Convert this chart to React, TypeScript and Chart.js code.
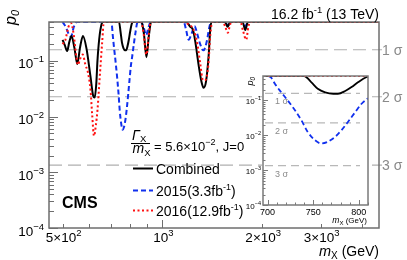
import React, { useEffect, useRef } from "react";
import { Chart, registerables } from "chart.js";
Chart.register(...registerables);

const FONT = '"Liberation Sans", Arial, Helvetica, sans-serif';

// ---- data ----
const combinedMass = [500, 508, 516, 524, 532, 543, 554, 564, 576, 590, 607, 618, 625, 632, 637, 645, 655, 662, 740, 748, 755, 763, 772, 777, 785, 792, 799, 808, 815, 865, 880, 895, 910, 925, 1180, 1214, 1237, 1257, 1286, 1311, 1331, 1354, 1379, 1395, 1408, 1545, 1573, 1600, 1745, 1778, 1810, 4500];
const combinedP0 = [0.24, 0.19, 0.15, 0.22, 0.28, 0.17, 0.088, 0.17, 0.28, 0.17, 0.052, 0.024, 0.022, 0.04, 0.1, 0.25, 0.45, 0.5, 0.5, 0.33, 0.215, 0.17, 0.155, 0.155, 0.185, 0.24, 0.33, 0.46, 0.5, 0.5, 0.3, 0.117, 0.28, 0.5, 0.5, 0.41, 0.36, 0.22, 0.084, 0.043, 0.033, 0.043, 0.128, 0.39, 0.5, 0.5, 0.41, 0.5, 0.5, 0.36, 0.5, 0.5];

const mass2015 = [500, 512, 522, 530, 540, 552, 700, 704, 708, 715, 722, 730, 737, 744, 752, 759, 766, 774, 781, 788, 796, 803, 810, 820, 830, 842, 862, 880, 893, 908, 922, 1160, 1180, 1200, 1225, 1250, 1275, 1300, 1330, 1360, 1385, 1402, 1550, 1575, 1600, 1750, 1780, 1810, 4500];
const p0_2015 = [0.5, 0.4, 0.3, 0.27, 0.4, 0.5, 0.5, 0.45, 0.3, 0.17, 0.1, 0.052, 0.027, 0.0124, 0.0072, 0.0058, 0.0065, 0.009, 0.014, 0.024, 0.046, 0.08, 0.115, 0.2, 0.33, 0.5, 0.5, 0.38, 0.29, 0.4, 0.5, 0.5, 0.35, 0.24, 0.31, 0.42, 0.3, 0.2, 0.155, 0.22, 0.4, 0.5, 0.5, 0.42, 0.5, 0.5, 0.42, 0.5, 0.5];

const mass2016 = [500, 510, 520, 530, 540, 550, 556, 565, 575, 586, 597, 607, 614, 622, 630, 637, 647, 658, 666, 860, 875, 895, 910, 922, 1160, 1200, 1240, 1275, 1302, 1325, 1345, 1376, 1395, 1415, 1520, 1550, 1575, 1600, 1620, 1720, 1750, 1790, 1815, 1840, 4500];
const p0_2016 = [0.2, 0.24, 0.4, 0.48, 0.3, 0.12, 0.085, 0.11, 0.13, 0.085, 0.06, 0.03, 0.011, 0.0045, 0.007, 0.013, 0.05, 0.21, 0.5, 0.5, 0.35, 0.13, 0.3, 0.5, 0.5, 0.45, 0.37, 0.2, 0.085, 0.045, 0.045, 0.085, 0.3, 0.5, 0.5, 0.4, 0.32, 0.45, 0.5, 0.5, 0.35, 0.24, 0.4, 0.5, 0.5];

const xMinorTicks = [500, 600, 700, 800, 900, 1000, 2000, 3000, 4000];
const xLabelValues = [500, 1000, 2000, 3000];
const xLabelBases = ["5×10", "10", "2×10", "3×10"];
const xLabelExps = ["2", "3", "3", "3"];
const yDecades = [1e-4, 1e-3, 1e-2, 1e-1];
const yDecadeExps = ["−4", "−3", "−2", "−1"];
const sigmaP = [0.1587, 0.02275, 0.00135];
const sigmaNames = ["1", "2", "3"];
const insetXLabels = [700, 750, 800];
const legendNames = ["Combined", "2015(3.3fb", "2016(12.9fb"];

type Part = { t: string; size: number; dy?: number; style?: string };

function drawParts(ctx: CanvasRenderingContext2D, parts: Part[], x: number, y: number, align: string, color: string) {
  ctx.save();
  ctx.fillStyle = color;
  ctx.textBaseline = "alphabetic";
  ctx.textAlign = "left";
  const f = (p: Part) => `${p.style ?? ""} ${p.size}px ${FONT}`;
  let total = 0;
  const widths: number[] = [];
  for (const p of parts) {
    ctx.font = f(p);
    const w = ctx.measureText(p.t).width;
    widths.push(w);
    total += w;
  }
  let cx = align === "right" ? x - total : align === "center" ? x - total / 2 : x;
  parts.forEach((p, i) => {
    ctx.font = f(p);
    ctx.fillText(p.t, cx, y - (p.dy ?? 0));
    cx += widths[i];
  });
  ctx.restore();
}

function line(ctx: CanvasRenderingContext2D, x1: number, y1: number, x2: number, y2: number) {
  ctx.beginPath();
  ctx.moveTo(x1, y1);
  ctx.lineTo(x2, y2);
  ctx.stroke();
}

const BLUE = "#1030ee";
const RED = "#ff1010";

function makeDatasets(width: number) {
  return [
    {
      label: "Combined",
      data: combinedMass.map((m, i) => ({ x: m, y: combinedP0[i] })),
      borderColor: "#000",
      borderWidth: width,
      borderDash: [],
      pointRadius: 0,
      fill: false,
      cubicInterpolationMode: "monotone",
      order: 2,
    },
    {
      label: "2015",
      data: mass2015.map((m, i) => ({ x: m, y: p0_2015[i] })),
      borderColor: BLUE,
      borderWidth: width,
      borderDash: [5, 3],
      pointRadius: 0,
      fill: false,
      cubicInterpolationMode: "monotone",
      order: 3,
    },
    {
      label: "2016",
      data: mass2016.map((m, i) => ({ x: m, y: p0_2016[i] })),
      borderColor: RED,
      borderWidth: width,
      borderDash: [2, 2.5],
      pointRadius: 0,
      fill: false,
      cubicInterpolationMode: "monotone",
      order: 1,
    },
  ];
}

const mainDecor = {
  id: "mainDecor",
  beforeDatasetsDraw(chart: any) {
    const ctx: CanvasRenderingContext2D = chart.ctx;
    const a = chart.chartArea;
    const ys = chart.scales.y;
    ctx.save();
    ctx.strokeStyle = "#b0b0b0";
    ctx.lineWidth = 1.2;
    ctx.setLineDash([13, 6]);
    sigmaP.forEach((p) => {
      const py = ys.getPixelForValue(p);
      line(ctx, a.left, py, a.right + 3, py);
    });
    ctx.restore();
  },
  afterDatasetsDraw(chart: any) {
    const ctx: CanvasRenderingContext2D = chart.ctx;
    const a = chart.chartArea;
    const xs = chart.scales.x;
    const ys = chart.scales.y;
    ctx.save();
    ctx.strokeStyle = "#6e6e6e";
    ctx.lineWidth = 1.5;
    ctx.strokeRect(a.left, a.top, a.right - a.left, a.bottom - a.top);
    ctx.lineWidth = 1;
    yDecades.forEach((d) => {
      for (let k = 1; k <= 9; k++) {
        const v = d * k;
        if (v > 0.5) break;
        const py = Math.round(ys.getPixelForValue(v)) + 0.5;
        line(ctx, a.left, py, a.left + (k === 1 ? 9 : 5), py);
      }
    });
    xMinorTicks.forEach((v) => {
      const px = Math.round(xs.getPixelForValue(v)) + 0.5;
      line(ctx, px, a.bottom, px, a.bottom - (v === 1000 ? 8 : 4));
    });
    ctx.restore();

    yDecades.forEach((d, i) => {
      const py = ys.getPixelForValue(d);
      drawParts(ctx, [{ t: "10", size: 13.5 }, { t: yDecadeExps[i], size: 9.5, dy: 6 }], a.left - 5, py + 7.5, "right", "#000");
    });
    xLabelValues.forEach((v, i) => {
      const px = xs.getPixelForValue(v);
      drawParts(ctx, [{ t: xLabelBases[i], size: 13.5 }, { t: xLabelExps[i], size: 9.5, dy: 6 }], px + 1, 242, "center", "#000");
    });
    drawParts(ctx, [{ t: "m", size: 14.5, style: "italic" }, { t: "X", size: 10, dy: -3 }, { t: " (GeV)", size: 14 }], a.right, 256, "right", "#000");
    ctx.save();
    ctx.translate(16, 10);
    ctx.rotate(-Math.PI / 2);
    drawParts(ctx, [{ t: "p", size: 16, style: "italic" }, { t: "0", size: 11, dy: -3, style: "italic" }], 0, 0, "right", "#000");
    ctx.restore();
    drawParts(ctx, [{ t: "16.2 fb", size: 14 }, { t: "-1", size: 9.5, dy: 6 }, { t: " (13 TeV)", size: 14 }], a.right, 19, "right", "#000");
    sigmaP.forEach((p, i) => {
      const py = ys.getPixelForValue(p);
      drawParts(ctx, [{ t: sigmaNames[i] + " σ", size: 14 }], a.right + 3, py + 5, "left", "#8a8a8a");
    });
    drawParts(ctx, [{ t: "CMS", size: 16, style: "bold" }], 62, 208, "left", "#000");
    // width/mass fraction
    drawParts(ctx, [{ t: "Γ", size: 14, style: "italic" }, { t: "X", size: 9.5, dy: -2.5 }], 132, 139.5, "left", "#000");
    ctx.save();
    ctx.strokeStyle = "#000";
    ctx.lineWidth = 1;
    line(ctx, 131, 143.5, 150, 143.5);
    ctx.restore();
    drawParts(ctx, [{ t: "m", size: 14, style: "italic" }, { t: "X", size: 9.5, dy: -2.5 }], 132.5, 153, "left", "#000");
    drawParts(ctx, [{ t: "= 5.6×10", size: 13 }, { t: "−2", size: 9, dy: 6 }, { t: ", J=0", size: 13 }], 154, 150.5, "left", "#000");
    const legY = [168.5, 190.5, 210.5];
    chart.data.datasets.forEach((ds: any, i: number) => {
      ctx.save();
      ctx.strokeStyle = ds.borderColor;
      ctx.lineWidth = 2;
      ctx.setLineDash(ds.borderDash);
      line(ctx, 133, legY[i], 153, legY[i]);
      ctx.restore();
      const parts: Part[] = [{ t: legendNames[i], size: 14 }];
      if (i > 0) {
        parts.push({ t: "-1", size: 9, dy: 6 });
        parts.push({ t: ")", size: 14 });
      }
      drawParts(ctx, parts, 156, legY[i] + 5, "left", "#000");
    });
  },
};

const insetDecor = {
  id: "insetDecor",
  beforeDraw(chart: any) {
    const ctx: CanvasRenderingContext2D = chart.ctx;
    const a = chart.chartArea;
    ctx.save();
    ctx.fillStyle = "#fff";
    ctx.fillRect(a.left - 1, a.top - 1, a.right - a.left + 2, a.bottom - a.top + 2);
    ctx.restore();
  },
  beforeDatasetsDraw(chart: any) {
    const ctx: CanvasRenderingContext2D = chart.ctx;
    const a = chart.chartArea;
    const ys = chart.scales.y;
    ctx.save();
    ctx.strokeStyle = "#b8b8b8";
    ctx.lineWidth = 1.2;
    ctx.setLineDash([8, 5]);
    sigmaP.forEach((p, i) => {
      const py = ys.getPixelForValue(p);
      line(ctx, a.left + 2, py, a.right - 8, py);
      drawParts(ctx, [{ t: sigmaNames[i] + " σ", size: 9 }], a.left + 12, py + 11, "left", "#8a8a8a");
    });
    ctx.restore();
  },
  afterDatasetsDraw(chart: any) {
    const ctx: CanvasRenderingContext2D = chart.ctx;
    const a = chart.chartArea;
    const xs = chart.scales.x;
    const ys = chart.scales.y;
    ctx.save();
    ctx.strokeStyle = "#7a7a7a";
    ctx.lineWidth = 1.5;
    ctx.strokeRect(a.left, a.top, a.right - a.left, a.bottom - a.top);
    ctx.lineWidth = 1;
    yDecades.forEach((d) => {
      for (let k = 1; k <= 9; k++) {
        const v = d * k;
        if (v > 0.5) break;
        const py = Math.round(ys.getPixelForValue(v)) + 0.5;
        line(ctx, a.left, py, a.left + (k === 1 ? 5 : 2.5), py);
      }
    });
    for (let v = 700; v <= 810; v += 10) {
      const px = Math.round(xs.getPixelForValue(v)) + 0.5;
      line(ctx, px, a.bottom, px, a.bottom - (v % 50 === 0 ? 5 : 2.5));
    }
    ctx.restore();
    yDecades.forEach((d, i) => {
      const py = ys.getPixelForValue(d);
      drawParts(ctx, [{ t: "10", size: 8 }, { t: yDecadeExps[i], size: 5.5, dy: 3.5 }], a.left - 2, py + 3.5, "right", "#000");
    });
    insetXLabels.forEach((v) => {
      const px = xs.getPixelForValue(v);
      drawParts(ctx, [{ t: String(v), size: 9 }], px, a.bottom + 10, "center", "#000");
    });
    drawParts(ctx, [{ t: "m", size: 8.5, style: "italic" }, { t: "X", size: 6, dy: -2 }, { t: " (GeV)", size: 8 }], a.right - 1, a.bottom + 18, "right", "#000");
    ctx.save();
    ctx.translate(a.left - 10, a.top + 1);
    ctx.rotate(-Math.PI / 2);
    drawParts(ctx, [{ t: "p", size: 9, style: "italic" }, { t: "0", size: 6.5, dy: -2, style: "italic" }], 0, 0, "right", "#000");
    ctx.restore();
  },
};

export default function App() {
  const mainRef = useRef<HTMLCanvasElement>(null);
  const insetRef = useRef<HTMLCanvasElement>(null);

  useEffect(() => {
    const main = new Chart(mainRef.current as HTMLCanvasElement, {
      type: "line",
      data: { datasets: makeDatasets(2) as any },
      options: {
        animation: false,
        responsive: false,
        events: [],
        layout: { padding: { left: 49, right: 28, top: 22, bottom: 32 } },
        plugins: { legend: { display: false }, tooltip: { enabled: false } },
        scales: {
          x: { type: "logarithmic", min: 455, max: 4500, display: false },
          y: { type: "logarithmic", min: 1e-4, max: 0.5, display: false },
        },
      },
      plugins: [mainDecor],
    } as any);
    const inset = new Chart(insetRef.current as HTMLCanvasElement, {
      type: "line",
      data: { datasets: makeDatasets(1.8) as any },
      options: {
        animation: false,
        responsive: false,
        events: [],
        layout: { padding: { left: 23, right: 7, top: 10, bottom: 26 } },
        plugins: { legend: { display: false }, tooltip: { enabled: false } },
        scales: {
          x: { type: "linear", min: 695, max: 810, display: false },
          y: { type: "logarithmic", min: 1e-4, max: 0.5, display: false },
        },
      },
      plugins: [insetDecor],
    } as any);
    return () => {
      main.destroy();
      inset.destroy();
    };
  }, []);

  return (
    <div style={{ position: "fixed", left: 0, top: 0, width: 407, height: 260, background: "#fff" }}>
      <canvas ref={mainRef} width={407} height={260} style={{ position: "absolute", left: 0, top: 0, width: 407, height: 260 }} />
      <canvas ref={insetRef} width={135} height={165} style={{ position: "absolute", left: 240, top: 66, width: 135, height: 165 }} />
    </div>
  );
}
